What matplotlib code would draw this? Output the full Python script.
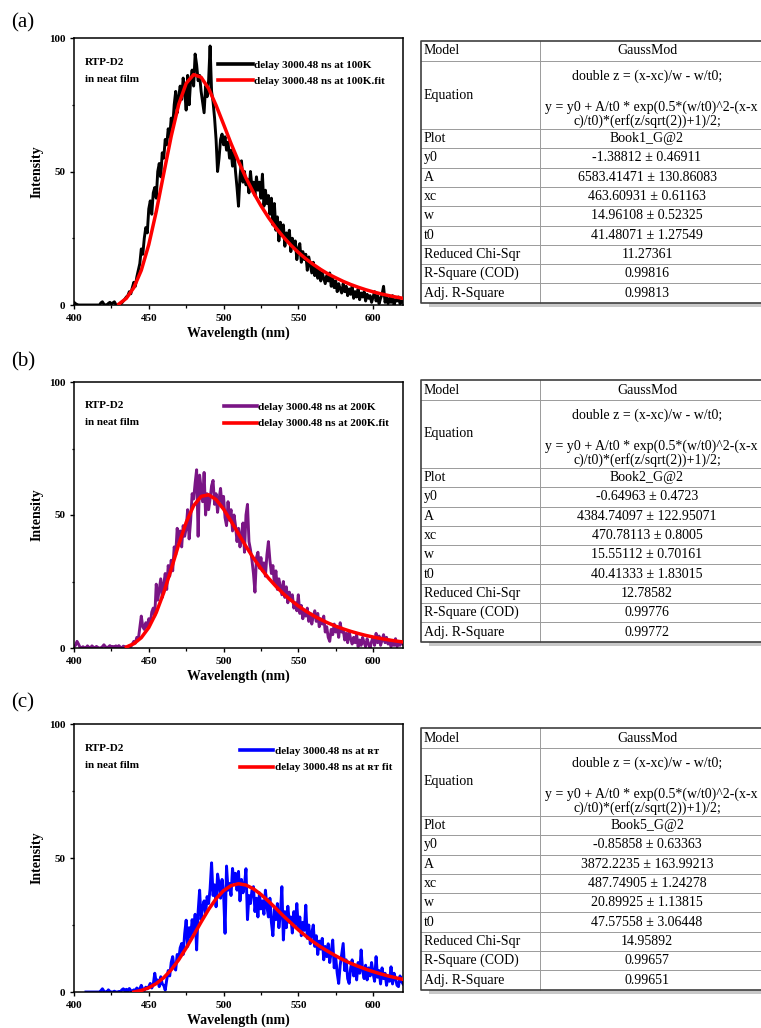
import numpy as np
import matplotlib
matplotlib.use('Agg')
import matplotlib.pyplot as plt
from matplotlib.ticker import MultipleLocator

plt.rcParams['font.family'] = ['Liberation Serif', 'DejaVu Serif']

# ---------------- data ----------------
wl_a = np.arange(400, 621)
int_a = [1.0, 0.5, 0.2, 0, 0, 0, 0, 0, 0, 0,
         0, 0, 0, 0, 0, 0, 0, 0, 0.8, 1.2,
         0.3, 0, 0, 0.6, 1.0, 0.4, 0.8, 1.2, 0.2, 0,
         0, 0.3, 0.8, 1.5, 2.2, 3.0, 3.5, 5.0, 4.2, 6.5,
         8.5, 7.0, 10.5, 13.0, 15.5, 21.0, 19.0, 25.0, 29.0, 27.0,
         36.0, 39.0, 34.0, 42.0, 44.0, 40.0, 50.0, 53.0, 48.0, 57.0,
         55.0, 62.0, 60.0, 66.0, 63.0, 70.0, 67.0, 75.0, 80.0, 72.0,
         78.0, 82.0, 77.0, 85.0, 80.0, 73.0, 86.0, 75.0, 84.0, 88.0,
         82.0, 94.0, 90.0, 84.0, 86.0, 80.0, 76.0, 72.0, 82.0, 78.0,
         84.0, 97.0, 80.0, 76.0, 70.0, 62.0, 50.0, 55.0, 62.0, 64.0,
         60.0, 63.0, 58.0, 61.0, 55.0, 58.0, 52.0, 57.0, 50.0, 44.0,
         37.0, 48.0, 54.0, 46.0, 50.0, 45.0, 47.0, 42.0, 50.0, 44.0,
         46.0, 41.0, 48.0, 43.0, 46.0, 40.0, 49.0, 37.0, 43.0, 38.0,
         41.0, 34.0, 40.0, 30.0, 38.0, 28.0, 33.0, 24.0, 31.0, 26.0,
         30.0, 22.0, 27.0, 24.0, 28.0, 20.0, 25.0, 22.0, 24.0, 17.0,
         21.0, 23.0, 16.0, 20.0, 17.0, 19.0, 13.0, 18.0, 15.0, 12.0,
         16.0, 11.0, 14.0, 10.0, 13.5, 9.0, 12.0, 10.0, 8.0, 11.0,
         9.0, 12.0, 7.0, 10.0, 6.5, 9.0, 5.0, 8.0, 6.0, 4.5,
         8.0, 5.0, 7.0, 3.5, 6.0, 4.0, 7.0, 2.5, 5.0, 3.0,
         6.0, 2.0, 4.5, 3.0, 5.0, 1.5, 4.0, 2.5, 3.5, 1.0,
         3.0, 5.0, 1.5, 3.5, 0.5, 2.5, 4.0, 7.0, 1.0, 3.0,
         0.5, 2.5, 1.0, 3.5, 0.0, 2.0, 1.5, 3.0, 0.5, 1.5,
         1.0]
fit_wl_a = np.arange(430, 621, 5)
fit_a = [0.35, 2.5, 6.5, 13.0, 22.6, 35.0, 49.2, 63.2, 75.1, 83.0,
         86.3, 85.3, 81.1, 74.8, 67.7, 60.5, 53.8, 47.6, 42.1, 37.2,
         32.8, 28.9, 25.5, 22.4, 19.7, 17.3, 15.2, 13.3, 11.6, 10.2,
         8.85, 7.69, 6.66, 5.74, 4.93, 4.21, 3.58, 3.01, 2.51]

wl_b = np.arange(400, 621)
int_b = [0.5, 1.0, 2.5, 1.5, 0.3, 0, 0.5, 0, 0, 0.8,
         0.2, 0, 0.8, 0.3, 0, 0.6, 0.2, 0, 0, 0.5,
         1.2, 0.5, 0, 0.4, 0.9, 0.3, 0.6, 0.2, 0.8, 0.4,
         0.9, 0.3, 0, 0.7, 0.5, 0.2, 0.1, 0.8, 0.5, 1.5,
         2.5, 1.8, 4.0, 3.2, 7.5, 12.0, 8.0, 7.0, 9.5, 8.0,
         11.0, 9.0, 13.5, 15.0, 12.0, 24.0, 18.0, 22.0, 26.0, 19.0,
         24.0, 28.0, 22.0, 31.0, 27.0, 33.0, 29.0, 38.0, 35.0, 45.0,
         40.0, 44.0, 38.0, 46.0, 42.0, 45.0, 52.0, 41.0, 48.0, 58.0,
         56.0, 62.0, 67.0, 42.0, 65.0, 60.0, 55.0, 66.0, 50.0, 58.0,
         52.0, 56.0, 61.0, 63.0, 54.0, 58.0, 51.0, 56.0, 60.0, 53.0,
         57.0, 49.0, 46.0, 55.0, 48.0, 52.0, 44.0, 50.0, 46.0, 40.0,
         45.0, 38.0, 43.0, 47.0, 36.0, 50.0, 54.0, 40.0, 37.0, 33.0,
         28.0, 21.0, 34.0, 36.0, 30.0, 34.0, 29.0, 32.0, 27.0, 35.0,
         40.0, 33.0, 28.0, 31.0, 24.0, 29.0, 22.0, 26.0, 23.0, 20.0,
         25.0, 19.0, 23.0, 17.0, 21.0, 18.0, 20.0, 15.0, 17.0, 14.0,
         20.0, 13.0, 16.0, 11.0, 14.0, 12.0, 15.0, 10.0, 13.0, 9.0,
         12.0, 14.0, 10.0, 13.0, 8.0, 11.0, 9.0, 12.0, 6.0, 8.0,
         4.0, 2.5, 7.0, 5.0, 9.0, 6.0, 8.0, 4.0, 9.5, 6.0,
         7.0, 3.0, 5.5, 2.0, 6.0, 3.5, 1.5, 4.0, 2.0, 5.0,
         0.5, 3.0, 1.0, 4.0, 2.0, 0.5, 3.5, 1.5, 0.0, 2.5,
         4.0, 1.0, 5.5, 2.0, 4.5, 1.0, 3.0, 5.0, 2.0, 4.0,
         1.5, 3.0, 0.5, 2.5, 1.0, 3.5, 0.5, 2.0, 1.0, 2.5,
         1.5]
fit_wl_b = np.arange(435, 621, 5)
fit_b = [0.37, 1.61, 3.88, 7.67, 13.3, 20.8, 29.6, 38.9, 47.2, 53.5,
         57.0, 57.6, 55.8, 52.2, 47.7, 42.9, 38.2, 33.8, 29.9, 26.3,
         23.2, 20.4, 18.0, 15.8, 13.9, 12.2, 10.7, 9.38, 8.21, 7.18,
         6.27, 5.47, 4.75, 4.13, 3.57, 3.08, 2.65, 2.26]

wl_c = np.arange(408, 621)
int_c = [0, 0,
         0, 0, 0, 0, 0, 0, 0, 0, 0.5, 1.2,
         0.3, 0, 0, 0.8, 0.2, 0, 0, 0.3, 0, 0,
         0.2, 0, 0.8, 1.2, 0.4, 1.0, 0.3, 1.3, 0.5, 0.2,
         0.8, 0.5, 1.5, 0.8, 1.2, 2.5, 1.0, 0.6, 1.8, 1.2,
         2.0, 3.2, 1.5, 2.8, 7.0, 3.5, 4.5, 2.0, 5.7, 3.0,
         2.5, 0.7, 4.5, 8.0, 6.0, 11.0, 13.2, 9.0, 8.2, 14.0,
         12.0, 16.5, 18.1, 14.0, 21.8, 26.8, 17.0, 24.0, 20.6, 27.0,
         22.0, 29.0, 15.7, 30.0, 38.0, 27.0, 31.8, 34.0, 29.0, 35.6,
         33.0, 38.5, 48.2, 36.0, 40.0, 31.8, 44.0, 40.5, 35.0, 42.0,
         37.0, 21.9, 47.0, 38.0, 40.5, 36.0, 46.1, 41.0, 44.3, 38.0,
         45.0, 34.0, 42.0, 37.0, 40.0, 46.0, 27.0, 36.0, 33.0, 38.0,
         39.3, 30.0, 35.0, 28.0, 37.0, 31.0, 34.0, 29.0, 38.0, 32.0,
         28.0, 35.0, 26.0, 21.0, 31.0, 27.0, 33.0, 24.0, 29.0, 39.3,
         19.4, 30.0, 24.0, 32.0, 26.0, 28.0, 22.0, 30.0, 25.0, 33.0,
         24.0, 28.0, 21.0, 26.0, 23.0, 32.4, 20.0, 25.0, 18.0, 22.0,
         25.0, 17.0, 21.0, 14.0, 19.0, 16.0, 20.0, 12.0, 17.0, 13.2,
         18.0, 11.0, 15.0, 19.4, 9.0, 13.0, 7.0, 3.2, 10.0, 14.0,
         18.1, 8.0, 12.0, 5.0, 3.2, 9.0, 12.0, 6.0, 10.0, 4.5,
         11.0, 7.0, 15.7, 8.0, 5.0, 10.0, 4.5, 9.0, 6.0, 11.0,
         7.0, 4.0, 13.2, 5.5, 8.0, 3.0, 9.0, 5.0, 7.0, 2.5,
         6.0, 4.0, 9.4, 3.0, 7.0, 5.0, 2.5, 2.0, 6.0, 4.0,
         3.0]
fit_wl_c = np.arange(440, 621, 5)
fit_c = [0.0, 0.57, 1.59, 3.14, 5.34, 8.29, 12.0, 16.4, 21.2, 26.1,
         30.8, 34.8, 37.8, 39.7, 40.4, 39.9, 38.5, 36.4, 33.9, 31.2,
         28.4, 25.8, 23.2, 20.9, 18.7, 16.8, 15.1, 13.5, 12.0, 10.7,
         9.6, 8.55, 7.61, 6.77, 6.0, 5.32, 4.70]

labels_a = ['delay 3000.48 ns at 100K', 'delay 3000.48 ns at 100K.fit']
labels_b = ['delay 3000.48 ns at 200K', 'delay 3000.48 ns at 200K.fit']
labels_c = ['delay 3000.48 ns at \u0280\u1d1b', 'delay 3000.48 ns at \u0280\u1d1b fit']

sample_lines = ['RTP-D2', 'in neat film']
panel_tags = ['(a)', '(b)', '(c)']
xticks = [400, 450, 500, 550, 600]
yticks = [0, 50, 100]

row_labels = ['Model', 'Equation', 'Plot', 'y0', 'A', 'xc', 'w', 't0',
              'Reduced Chi-Sqr', 'R-Square (COD)', 'Adj. R-Square']
model_name = 'GaussMod'
eq_lines = ['double z = (x-xc)/w - w/t0;',
            'y = y0 + A/t0 * exp(0.5*(w/t0)^2-(x-x',
            'c)/t0)*(erf(z/sqrt(2))+1)/2;']
values_a = ['Book1_G@2', '-1.38812 \u00b1 0.46911', '6583.41471 \u00b1 130.86083',
            '463.60931 \u00b1 0.61163', '14.96108 \u00b1 0.52325', '41.48071 \u00b1 1.27549',
            '11.27361', '0.99816', '0.99813']
values_b = ['Book2_G@2', '-0.64963 \u00b1 0.4723', '4384.74097 \u00b1 122.95071',
            '470.78113 \u00b1 0.8005', '15.55112 \u00b1 0.70161', '40.41333 \u00b1 1.83015',
            '12.78582', '0.99776', '0.99772']
values_c = ['Book5_G@2', '-0.85858 \u00b1 0.63363', '3872.2235 \u00b1 163.99213',
            '487.74905 \u00b1 1.24278', '20.89925 \u00b1 1.13815', '47.57558 \u00b1 3.06448',
            '14.95892', '0.99657', '0.99651']

# ---------------- figure ----------------
W, H = 761, 1028
fig = plt.figure(figsize=(W / 100, H / 100), dpi=100)

def px_axes(left, top, right, bottom):
    return fig.add_axes([left / W, 1 - bottom / H, (right - left) / W, (bottom - top) / H])

RED = '#ff0000'
panels = [
    dict(box=(74, 38, 403, 305), wl=wl_a, y=int_a, fx=fit_wl_a, fy=fit_a, col='#000000',
         labels=labels_a, leg=(0.437, 0.918), hl=3.2),
    dict(box=(74, 382, 403, 648), wl=wl_b, y=int_b, fx=fit_wl_b, fy=fit_b, col='#7a1585',
         labels=labels_b, leg=(0.455, 0.925), hl=3.0),
    dict(box=(74, 724, 403, 992), wl=wl_c, y=int_c, fx=fit_wl_c, fy=fit_c, col='#0000ff',
         labels=labels_c, leg=(0.505, 0.918), hl=3.0),
]

bold_serif = ['Liberation Serif', 'DejaVu Serif']
for p in panels:
    ax = px_axes(*p['box'])
    l1, = ax.plot(p['wl'], p['y'], color=p['col'], lw=2.1, zorder=2)
    l2, = ax.plot(p['fx'], p['fy'], color=RED, lw=2.5, zorder=3)
    ax.set_xlim(400, 620)
    ax.set_ylim(0, 100)
    ax.set_xticks(xticks)
    ax.set_yticks(yticks)
    ax.xaxis.set_minor_locator(MultipleLocator(25))
    ax.yaxis.set_minor_locator(MultipleLocator(25))
    ax.tick_params(which='major', direction='out', length=3.2, width=1.0, pad=3, labelsize=8)
    ax.tick_params(which='minor', direction='out', length=1.8, width=0.9)
    for lab in ax.get_xticklabels() + ax.get_yticklabels():
        lab.set_fontweight('bold')
    for sp in ax.spines.values():
        sp.set_linewidth(1.1)
    ax.set_xlabel('Wavelength (nm)', fontsize=10, fontweight='bold', labelpad=2.5)
    ax.set_ylabel('Intensity', fontsize=10, fontweight='bold', labelpad=4)
    ax.text(0.033, 0.91, sample_lines[0], transform=ax.transAxes, fontsize=8,
            fontweight='bold', va='center', ha='left')
    ax.text(0.033, 0.846, sample_lines[1], transform=ax.transAxes, fontsize=8,
            fontweight='bold', va='center', ha='left')
    leg = ax.legend([l1, l2], p['labels'], loc='upper left', bbox_to_anchor=p['leg'],
                    frameon=False, borderpad=0, borderaxespad=0, handlelength=p['hl'],
                    handletextpad=0.1, labelspacing=0.62,
                    prop={'family': bold_serif, 'weight': 'bold', 'size': 8})
    for h in leg.get_lines():
        h.set_linewidth(2.6)

# ---------------- overlay (pixel space) for tables and panel tags ----------------
ov = fig.add_axes([0, 0, 1, 1])
ov.set_xlim(0, W)
ov.set_ylim(H, 0)
ov.axis('off')

for tag, y in zip(panel_tags, [23, 362, 703]):
    ov.text(23, y, tag, fontsize=15, ha='center', va='center')

def draw_table(top, vals):
    left, div, right = 421, 540, 900
    vc = 647
    heights = [20, 68] + [19.3] * 9
    bounds = [top]
    for h in heights:
        bounds.append(bounds[-1] + h)
    bottom = bounds[-1]
    # shadow
    ov.fill_between([left + 8, right], bottom + 0.5, bottom + 4, color='#c8c8c8', lw=0, zorder=1)
    # inner lines
    for b in bounds[1:-1]:
        ov.plot([left, right], [b, b], color='#9a9a9a', lw=0.7, zorder=2)
    ov.plot([div, div], [top, bottom], color='#9a9a9a', lw=0.7, zorder=2)
    # outer border
    ov.plot([right, left, left, right], [top, top, bottom, bottom], color='#404040', lw=1.2, zorder=3)
    fs = 10
    for i, lab in enumerate(row_labels):
        yc = (bounds[i] + bounds[i + 1]) / 2
        ov.text(left + 3, yc, lab, fontsize=fs, ha='left', va='center', zorder=4)
    ov.text(vc, (bounds[0] + bounds[1]) / 2, model_name, fontsize=fs, ha='center', va='center')
    et = bounds[1]
    ov.text(vc, et + 15, eq_lines[0], fontsize=fs, ha='center', va='center')
    ov.text(545, et + 46, eq_lines[1], fontsize=fs, ha='left', va='center', clip_on=False)
    ov.text(vc, et + 60, eq_lines[2], fontsize=fs, ha='center', va='center')
    for i, v in enumerate(vals):
        yc = (bounds[i + 2] + bounds[i + 3]) / 2
        ov.text(vc, yc, v, fontsize=fs, ha='center', va='center')

draw_table(41, values_a)
draw_table(380, values_b)
draw_table(728, values_c)

fig.savefig('out.png', dpi=100)
